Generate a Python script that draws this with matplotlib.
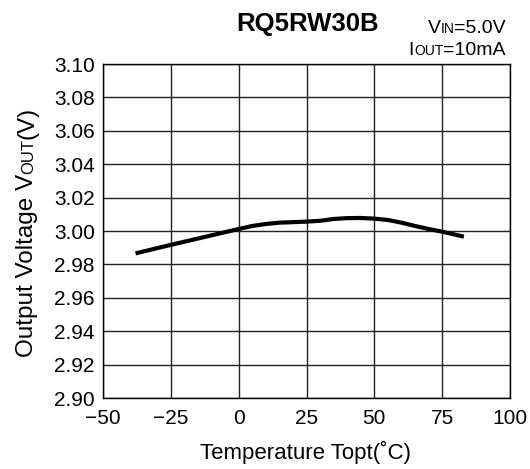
import matplotlib
matplotlib.use("Agg")
import matplotlib.pyplot as plt

plt.rcParams['font.family'] = ['Liberation Sans', 'DejaVu Sans']

temp = [-38, -25, -10, 0, 5, 10, 15, 20, 25, 30, 35, 40, 45, 50, 55, 60, 65, 70, 75, 83]
vout = [2.9866, 2.9917, 2.9974, 3.0012, 3.0030, 3.0042, 3.0050, 3.0053, 3.0056, 3.0061,
        3.0072, 3.0077, 3.0078, 3.0074, 3.0066, 3.0050, 3.0030, 3.0012, 2.9996, 2.9966]
xticks = [-50, -25, 0, 25, 50, 75, 100]
yticks = [2.90, 2.92, 2.94, 2.96, 2.98, 3.00, 3.02, 3.04, 3.06, 3.08, 3.10]

fig = plt.figure(figsize=(5.3, 4.69), dpi=100)
ax = fig.add_axes([103/530, 1-398/469, 407/530, 334/469])
ax.plot(temp, vout, color='black', lw=3, solid_capstyle='butt', solid_joinstyle='round')
ax.set_xlim(-50, 100)
ax.set_ylim(2.90, 3.10)
ax.set_xticks(xticks)
ax.set_xticklabels([str(t).replace('-', '\u2212') for t in xticks])
ax.set_yticks(yticks)
ax.set_yticklabels(['%.2f' % v for v in yticks])
ax.tick_params(length=0, labelsize=15)
ax.tick_params(axis='x', pad=8)
ax.tick_params(axis='y', pad=6)
ax.grid(True, color='#222222', lw=1)
for s in ax.spines.values():
    s.set_color('black')
    s.set_linewidth(1)

fig.text(308/530, 1-24/469, 'RQ5RW30B', fontsize=18.5, fontweight='bold', ha='center', va='center')

renderer = fig.canvas.get_renderer()

def rich(x, y, parts, rot=0):
    # parts: (text, size); x,y in pixels; horizontal: right-aligned baseline; vertical: centred
    texts = []
    for s, size in parts:
        t = fig.text(0, 0, s, fontsize=size, rotation=rot, va='baseline', ha='left',
                     rotation_mode='anchor', transform=None)
        texts.append(t)
    widths = []
    for t in texts:
        bb = t.get_window_extent(renderer)
        widths.append(bb.height if rot else bb.width)
    total = sum(widths)
    if rot:
        pos = y - total/2
        for t, w in zip(texts, widths):
            t.set_position((x, pos))
            pos += w
    else:
        pos = x - total
        for t, w in zip(texts, widths):
            t.set_position((pos, y))
            pos += w

rich(506, 469-33, [('V', 14), ('IN', 10), ('=5.0V', 14)])
rich(506, 469-55, [('I', 14), ('OUT', 10), ('=10mA', 14)])
rich(33, 469-232, [('Output Voltage V', 17.5), ('OUT', 12), ('(V)', 17.5)], rot=90)
fig.text(306/530, 1-452/469, 'Temperature Topt(\u02daC)', fontsize=16, ha='center', va='center')

fig.savefig('out.png', dpi=100)
